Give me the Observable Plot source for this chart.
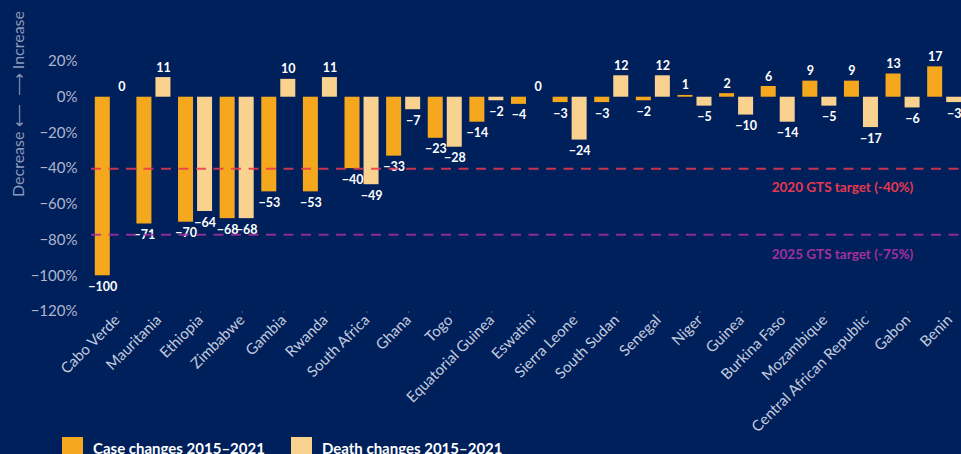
<!DOCTYPE html>
<html>
<head>
<meta charset="utf-8">
<script src="https://cdn.jsdelivr.net/npm/d3@7"></script>
<script src="https://cdn.jsdelivr.net/npm/@observablehq/plot@0.6"></script>
<style>
  html, body { margin: 0; padding: 0; background: #00205b; overflow: hidden; }
  #chart { width: 961px; height: 454px; position: relative; }
  .legend { display: flex; align-items: center; margin-top: 7px; padding-left: 62px; font-family: Lato, "Open Sans", sans-serif; font-weight: 700; font-size: 15px; color: #ffffff; }
  .legend .item { display: flex; align-items: center; margin-right: 26px; }
  .legend .sw { width: 21px; height: 21px; margin-right: 10px; }
</style>
</head>
<body>
<div id="chart"></div>
<script>
const countries = ["Cabo Verde", "Mauritania", "Ethiopia", "Zimbabwe", "Gambia", "Rwanda", "South Africa", "Ghana", "Togo", "Equatorial Guinea", "Eswatini", "Sierra Leone", "South Sudan", "Senegal", "Niger", "Guinea", "Burkina Faso", "Mozambique", "Central African Republic", "Gabon", "Benin"];
const caseChanges = [-100, -71, -70, -68, -53, -53, -40, -33, -23, -14, -4, -3, -3, -2, 1, 2, 6, 9, 9, 13, 17];
const deathChanges = [0, 11, -64, -68, 10, 11, -49, -7, -28, -2, 0, -24, 12, 12, -5, -10, -14, -5, -17, -6, -3];
const seriesNames = ["Case changes 2015–2021", "Death changes 2015–2021"];
const seriesColors = ["#f5a81e", "#f9d28f"];
const yTicks = [20, 0, -20, -40, -60, -80, -100, -120];
const targetValues = [-40, -77];
const targetLabels = ["2020 GTS target (-40%)", "2025 GTS target (-75%)"];
const targetColors = ["#e8384f", "#a3309d"];
const yAxisLabel = "Decrease ⟵  ⟶ Increase";

const cases = countries.map((c, i) => ({country: c, value: caseChanges[i]}));
const deaths = countries.map((c, i) => ({country: c, value: deathChanges[i]}));
const targets = targetValues.map((v, i) => ({value: v, label: targetLabels[i], color: targetColors[i]}));

const fmt = v => (v < 0 ? "\u2212" : "") + Math.abs(v);
const FONT = "Lato, 'Open Sans', sans-serif";
const BAND = (965 - 91) / countries.length;
const OFF = BAND / 2 - 11.3;

const labelMarks = (data, dx) => [
  Plot.text(data.filter(d => d.value >= 0), {x: "country", y: "value", text: d => fmt(d.value), dx, dy: -10, fill: "#ffffff", fontWeight: 700, fontSize: 12.5}),
  Plot.text(data.filter(d => d.value < 0), {x: "country", y: "value", text: d => fmt(d.value), dx, dy: 11, fill: "#ffffff", fontWeight: 700, fontSize: 12.5})
];

const svg = Plot.plot({
  width: 961,
  height: 430,
  marginLeft: 91,
  marginRight: -4,
  marginTop: 0,
  marginBottom: 119,
  style: {background: "#00205b", fontFamily: FONT, overflow: "visible"},
  x: {domain: countries, range: [91, 965], padding: 0, round: false, label: null},
  y: {domain: [-120, 20], range: [311, 61], label: null},
  marks: [
    Plot.barY(cases, {x: "country", y: "value", fill: seriesColors[0], insetLeft: 3.8, insetRight: BAND - 18.8}),
    Plot.barY(deaths, {x: "country", y: "value", fill: seriesColors[1], insetLeft: BAND - 18.8, insetRight: 3.8}),
    ...labelMarks(cases, -OFF),
    ...labelMarks(deaths, OFF),
    Plot.ruleY(targets, {y: "value", stroke: "color", strokeWidth: 2, strokeDasharray: "10,7.5", strokeOpacity: 0.85}),
    Plot.text(targets, {y: "value", text: "label", fill: "color", frameAnchor: "right", textAnchor: "middle", dx: -123, dy: 19.5, fontWeight: 700, fontSize: 13.5}),
    Plot.axisY({ticks: yTicks, tickFormat: d => fmt(d) + "%", tickSize: 0, tickPadding: 14, fontSize: 15, color: "#aeb7cf", label: null}),
    Plot.axisX({tickRotate: -45, tickSize: 2, tickPadding: 4, dx: 5, fontSize: 15, color: "#c3cbde", stroke: "#43577f", label: null}),
    Plot.text([yAxisLabel], {text: d => d, frameAnchor: "left", textAnchor: "middle", rotate: -90, dx: -73, dy: -52, fontSize: 16, fill: "#8e9abb"})
  ]
});

const chart = document.getElementById("chart");
chart.appendChild(svg);
const legend = document.createElement("div");
legend.className = "legend";
seriesNames.forEach((name, i) => {
  const item = document.createElement("div");
  item.className = "item";
  const sw = document.createElement("span");
  sw.className = "sw";
  sw.style.background = seriesColors[i];
  const t = document.createElement("span");
  t.textContent = name;
  item.appendChild(sw);
  item.appendChild(t);
  legend.appendChild(item);
});
chart.appendChild(legend);
</script>
</body>
</html>
